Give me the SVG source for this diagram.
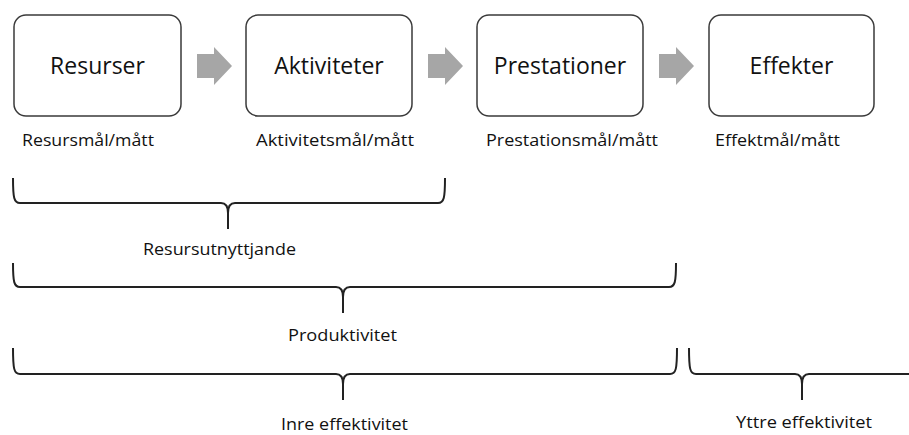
<svg xmlns="http://www.w3.org/2000/svg" width="909" height="435" viewBox="0 0 909 435">
<style>
.box{fill:#fff;stroke:#3a3a3a;stroke-width:1.5}
.t{font-family:"Open Sans","Noto Sans",sans-serif;fill:#111}
.big{font-size:23px;text-anchor:middle}
.lab{font-size:17px}
.arr{fill:#a6a6a6}
.br{fill:none;stroke:#222;stroke-width:2}
</style>
<defs>
<path id="arrow" class="arr" d="M0,-12 H17 V-19 L35,0 L17,19 V12 H0 Z"/>
</defs>
<rect width="909" height="435" fill="#fff"/>
<g id="node-resurser">
<rect class="box" x="14" y="15" width="167" height="101" rx="12"/>
<text class="t big" x="97.5" y="74">Resurser</text>
</g>
<g id="node-aktiviteter">
<rect class="box" x="246" y="15" width="166" height="101" rx="12"/>
<text class="t big" x="329" y="74">Aktiviteter</text>
</g>
<g id="node-prestationer">
<rect class="box" x="477" y="15" width="166" height="101" rx="12"/>
<text class="t big" x="560" y="74">Prestationer</text>
</g>
<g id="node-effekter">
<rect class="box" x="709" y="15" width="165" height="101" rx="12"/>
<text class="t big" x="791.5" y="74">Effekter</text>
</g>
<g id="connectors">
<use href="#arrow" x="197" y="66"/>
<use href="#arrow" x="428" y="66"/>
<use href="#arrow" x="659" y="66"/>
</g>
<g id="labels">
<text class="t lab" x="22" y="146" textLength="132" lengthAdjust="spacingAndGlyphs">Resursmål/mått</text>
<text class="t lab" x="256" y="146" textLength="158" lengthAdjust="spacingAndGlyphs">Aktivitetsmål/mått</text>
<text class="t lab" x="486" y="146" textLength="172" lengthAdjust="spacingAndGlyphs">Prestationsmål/mått</text>
<text class="t lab" x="715" y="146" textLength="125" lengthAdjust="spacingAndGlyphs">Effektmål/mått</text>
</g>
<g id="brace-resursutnyttjande">
<path class="br" d="M13,178 C13,198 14,203 20,203 H221 C226,203 228,206 228,213 V229 M228,213 C228,206 230,203 235,203 H438 C444,203 445,198 445,178"/>
<text class="t lab" x="143" y="255" textLength="153" lengthAdjust="spacingAndGlyphs">Resursutnyttjande</text>
</g>
<g id="brace-produktivitet">
<path class="br" d="M13,263 C13,282 14,287 20,287 H336 C341,287 343,290 343,297 V313 M343,297 C343,290 345,287 350,287 H669 C675,287 676,282 676,263"/>
<text class="t lab" x="288" y="341" textLength="109" lengthAdjust="spacingAndGlyphs">Produktivitet</text>
</g>
<g id="brace-inre">
<path class="br" d="M13,348 C13,369 14,374 20,374 H336 C341,374 343,377 343,384 V400 M343,384 C343,377 345,374 350,374 H670 C676,374 677,369 677,348"/>
<text class="t lab" x="281" y="430" textLength="127" lengthAdjust="spacingAndGlyphs">Inre effektivitet</text>
</g>
<g id="brace-yttre">
<path class="br" d="M689,348 C689,369 690,374 696,374 H795 C800,374 802,377 802,384 V400 M802,384 C802,377 804,374 809,374 H912"/>
<text class="t lab" x="736" y="428" textLength="136" lengthAdjust="spacingAndGlyphs">Yttre effektivitet</text>
</g>
</svg>
